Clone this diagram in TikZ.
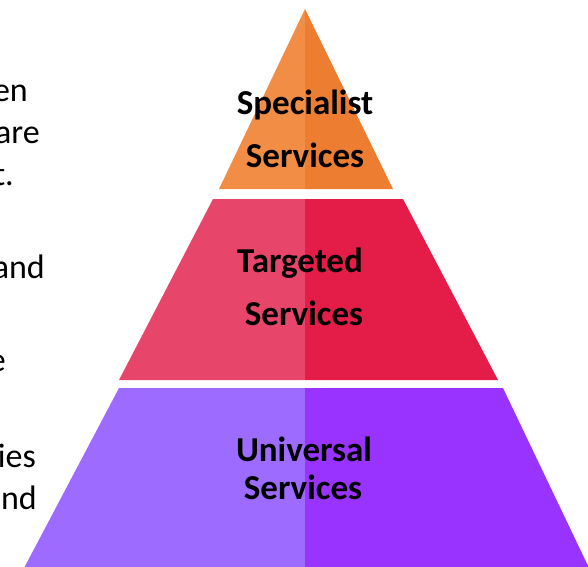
\documentclass[tikz,border=0pt]{standalone}
\usepackage{fontspec}
\setmainfont{Carlito}
\definecolor{orangeL}{HTML}{F18D44}
\definecolor{orangeR}{HTML}{ED7D31}
\definecolor{redL}{HTML}{E8456A}
\definecolor{redR}{HTML}{E31C48}
\definecolor{purpleL}{HTML}{9D6BFF}
\definecolor{purpleR}{HTML}{9933FF}
\begin{document}
\begin{tikzpicture}[x=1pt,y=-1pt]
  \tikzstyle{every node}=[inner sep=0pt, anchor=base]
  \tikzstyle{tier}=[font=\fontsize{35}{42}\selectfont\bfseries]
  \tikzstyle{side}=[font=\fontsize{34}{41}\selectfont, anchor=base east]

  \useasboundingbox (0,0) rectangle (588,566);
  \clip (0,0) rectangle (588,566);

  % top tier
  \fill[orangeL] (305,9) -- (219,189) -- (305,189) -- cycle;
  \fill[orangeR] (305,9) -- (305,189) -- (393,189) -- cycle;
  % middle tier
  \fill[redL] (213,199) -- (119,380) -- (305,380) -- (305,199) -- cycle;
  \fill[redR] (305,199) -- (305,380) -- (498,380) -- (403,199) -- cycle;
  % bottom tier
  \fill[purpleL] (119,388) -- (23,570) -- (305,570) -- (305,388) -- cycle;
  \fill[purpleR] (305,388) -- (305,570) -- (590,570) -- (503,388) -- cycle;

  \node[tier] (spec1) at (305,114) {Specialist};
  \node[tier] (spec2) at (305,167) {Services};
  \node[tier] (targ1) at (300,272) {Targeted};
  \node[tier] (targ2) at (304,325) {Services};
  \node[tier] (univ1) at (304,461) {Universal};
  \node[tier] (univ2) at (303,499) {Services};

  % cut-off text on the left
  \node[side] (l1) at (28,101) {en};
  \node[side] (l2) at (40,143) {are};
  \node[side] (l3) at (14,185) {t.};
  \node[side] (l4) at (45,278) {and};
  \node[side] (l5) at (6,371) {e};
  \node[side] (l6) at (36,467) {ies};
  \node[side] (l7) at (37,509) {nd};
\end{tikzpicture}
\end{document}
